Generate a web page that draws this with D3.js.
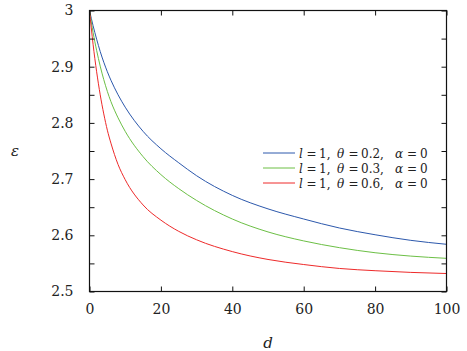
<!DOCTYPE html>
<html>
<head>
<meta charset="utf-8">
<script src="https://d3js.org/d3.v7.min.js"></script>
<style>
  body { margin: 0; background: #fff; }
</style>
</head>
<body>
<div id="chart"></div>
<script>
// distance d and permittivity values
const dValues = [0, 1, 2, 3, 4, 5, 6, 8, 10, 15, 20, 25, 30, 40, 50, 60, 70, 80, 90, 100];
const epsTheta02 = [3, 2.973, 2.949, 2.927, 2.908, 2.891, 2.876, 2.850, 2.828, 2.785, 2.754, 2.729, 2.706, 2.671, 2.647, 2.629, 2.613, 2.601, 2.591, 2.584];
const epsTheta03 = [3, 2.961, 2.929, 2.901, 2.877, 2.856, 2.838, 2.809, 2.785, 2.740, 2.708, 2.683, 2.662, 2.629, 2.606, 2.590, 2.578, 2.569, 2.563, 2.559];
const epsTheta06 = [3, 2.940, 2.891, 2.850, 2.816, 2.787, 2.764, 2.726, 2.699, 2.654, 2.627, 2.607, 2.592, 2.571, 2.557, 2.548, 2.541, 2.537, 2.534, 2.532];
const thetaLabels = ["0.2", "0.3", "0.6"];
const xTicks = [0, 20, 40, 60, 80, 100];
const yTicks = [2.5, 2.6, 2.7, 2.8, 2.9, 3];
const yMinorTicks = [2.55, 2.65, 2.75, 2.85, 2.95];

const series = [epsTheta02, epsTheta03, epsTheta06];
const colors = ["#2c58ac", "#6cbf45", "#ee2a2a"];
const serif = "DejaVu Serif";

const width = 467, height = 351;
const margin = {top: 10.5, right: 20.5, bottom: 60, left: 89.5};

const svg = d3.select("#chart").append("svg")
    .attr("width", width)
    .attr("height", height);

const x = d3.scaleLinear().domain([0, 100]).range([margin.left, width - margin.right]);
const y = d3.scaleLinear().domain([2.5, 3]).range([height - margin.bottom + 0.5, margin.top]);

// curves
const line = d3.line()
    .x((d, i) => x(dValues[i]))
    .y(d => y(d))
    .curve(d3.curveMonotoneX);

svg.selectAll("path.curve")
    .data(series)
    .enter().append("path")
    .attr("class", "curve")
    .attr("fill", "none")
    .attr("stroke", (d, i) => colors[i])
    .attr("stroke-width", 1)
    .attr("d", line);

// ticks: inward, mirrored on all sides
const tl = 5;
const axisBottom = d3.axisBottom(x).tickValues(xTicks).tickSize(-tl).tickPadding(13).tickFormat(d3.format("d"));
const axisTop = d3.axisTop(x).tickValues(xTicks).tickSize(-tl).tickFormat("");
const yAll = yTicks.concat(yMinorTicks);
const axisLeft = d3.axisLeft(y).tickValues(yAll).tickSize(-tl).tickPadding(16)
    .tickFormat(d => yTicks.includes(d) ? (d === 3 ? "3" : d3.format(".1f")(d)) : "");
const axisRight = d3.axisRight(y).tickValues(yAll).tickSize(-tl).tickFormat("");

function styleAxis(g) {
  g.select(".domain").remove();
  g.attr("font-family", serif).attr("font-size", 14);
  g.selectAll(".tick line").attr("stroke", "#111").attr("stroke-width", 1);
  g.selectAll(".tick text").attr("fill", "#222");
}

svg.append("g").attr("transform", `translate(0,${y(2.5)})`).call(axisBottom).call(styleAxis);
svg.append("g").attr("transform", `translate(0,${y(3)})`).call(axisTop).call(styleAxis);
svg.append("g").attr("transform", `translate(${x(0)},0)`).call(axisLeft).call(styleAxis);
svg.append("g").attr("transform", `translate(${x(100)},0)`).call(axisRight).call(styleAxis);

// frame
svg.append("rect")
    .attr("x", x(0)).attr("y", y(3))
    .attr("width", x(100) - x(0)).attr("height", y(2.5) - y(3))
    .attr("fill", "none").attr("stroke", "#111").attr("stroke-width", 1.2);

// axis titles
svg.append("text")
    .attr("x", (x(0) + x(100)) / 2).attr("y", 348)
    .attr("text-anchor", "middle")
    .attr("font-family", serif).attr("font-size", 15).attr("font-style", "italic")
    .attr("fill", "#222")
    .text("d");

svg.append("text")
    .attr("x", 15).attr("y", 156)
    .attr("text-anchor", "middle")
    .attr("font-family", serif).attr("font-size", 15).attr("font-style", "italic")
    .attr("fill", "#222")
    .text("ε");

// legend
const legend = svg.append("g").attr("transform", "translate(263,153)");
thetaLabels.forEach((t, i) => {
  const row = legend.append("g").attr("transform", `translate(0,${i * 15})`);
  row.append("line")
      .attr("x1", 0).attr("x2", 32).attr("y1", 0).attr("y2", 0)
      .attr("stroke", colors[i]).attr("stroke-width", 1);
  const txt = row.append("text").attr("y", 4.5)
      .attr("font-family", serif).attr("font-size", 12)
      .attr("fill", "#222");
  const parts = [
    ["l", 36, true], ["=", 43.5, false], ["1,", 56, false],
    ["θ", 74, true], ["=", 85.5, false], [t + ",", 98, false],
    ["α", 132, true], ["=", 144, false], ["0", 157, false]
  ];
  parts.forEach(p => {
    txt.append("tspan").attr("x", p[1])
      .attr("font-style", p[2] ? "italic" : "normal")
      .text(p[0]);
  });
});
</script>
</body>
</html>
